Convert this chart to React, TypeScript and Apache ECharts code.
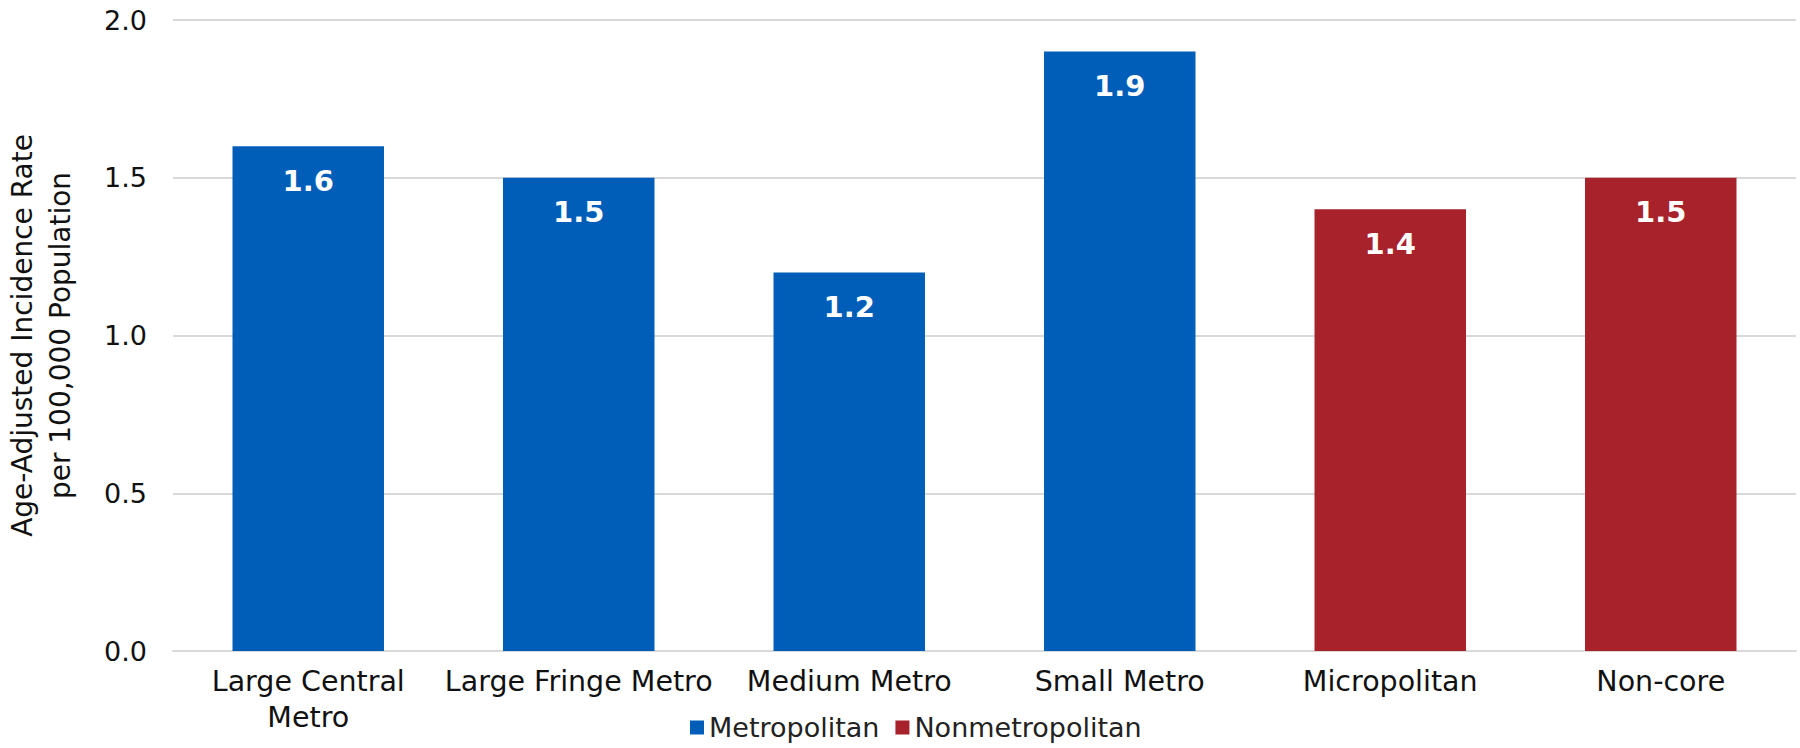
import React, { useEffect, useRef } from "react";
import * as echarts from "echarts";

const categories = [
  "Large Central\nMetro",
  "Large Fringe Metro",
  "Medium Metro",
  "Small Metro",
  "Micropolitan",
  "Non-core",
];
const metropolitan: (number | string)[] = [1.6, 1.5, 1.2, 1.9, "-", "-"];
const nonmetropolitan: (number | string)[] = ["-", "-", "-", "-", 1.4, 1.5];
const yTicks = { min: 0, max: 2, interval: 0.5 };
const yTitle = "Age-Adjusted Incidence Rate\nper 100,000 Population";

const FONT = "DejaVu Sans";
const BLUE = "#005EB8";
const RED = "#A8222B";

export default function App() {
  const ref = useRef<HTMLDivElement>(null);
  useEffect(() => {
    document.body.style.margin = "0";
    const chart = echarts.init(ref.current!, null, { renderer: "svg" });
    const labelCfg = {
      show: true,
      position: "insideTop",
      distance: 20,
      color: "#ffffff",
      fontFamily: FONT,
      fontWeight: "bold",
      fontSize: 29,
      formatter: (p: any) => Number(p.value).toFixed(1),
    };
    chart.setOption({
      animation: false,
      textStyle: { fontFamily: FONT },
      grid: {
        left: 173,
        right: 4,
        top: 20,
        bottom: 97,
        containLabel: false,
        outerBoundsMode: "none",
      },
      legend: {
        left: 690,
        top: 714,
        padding: 0,
        itemWidth: 14,
        itemHeight: 14,
        itemGap: 16,
        icon: "rect",
        textStyle: { fontFamily: FONT, fontSize: 27, color: "#222" },
        data: ["Metropolitan", "Nonmetropolitan"],
      },
      xAxis: {
        type: "category",
        data: categories,
        axisLine: { show: true, lineStyle: { color: "#d9d9d9", width: 2 } },
        axisTick: { show: false },
        axisLabel: {
          color: "#111",
          fontFamily: FONT,
          fontSize: 28.5,
          margin: 12,
          lineHeight: 36,
          interval: 0,
        },
      },
      yAxis: {
        type: "value",
        min: yTicks.min,
        max: yTicks.max,
        interval: yTicks.interval,
        name: yTitle,
        nameLocation: "middle",
        nameGap: 94,
        nameTextStyle: {
          fontFamily: FONT,
          fontSize: 28,
          color: "#111",
          lineHeight: 38,
        },
        axisLine: { show: false },
        axisTick: { show: false },
        axisLabel: {
          color: "#111",
          fontFamily: FONT,
          fontSize: 27,
          margin: 26,
          formatter: (v: number) => v.toFixed(1),
        },
        splitLine: { lineStyle: { color: "#d9d9d9", width: 2 } },
      },
      series: [
        {
          name: "Metropolitan",
          type: "bar",
          stack: "all",
          data: metropolitan,
          barCategoryGap: "44%",
          itemStyle: { color: BLUE },
          label: labelCfg,
        },
        {
          name: "Nonmetropolitan",
          type: "bar",
          stack: "all",
          data: nonmetropolitan,
          barCategoryGap: "44%",
          itemStyle: { color: RED },
          label: labelCfg,
        },
      ],
    });
    return () => chart.dispose();
  }, []);
  return (
    <div
      ref={ref}
      style={{ width: 1800, height: 748, position: "absolute", left: 0, top: 0 }}
    />
  );
}
